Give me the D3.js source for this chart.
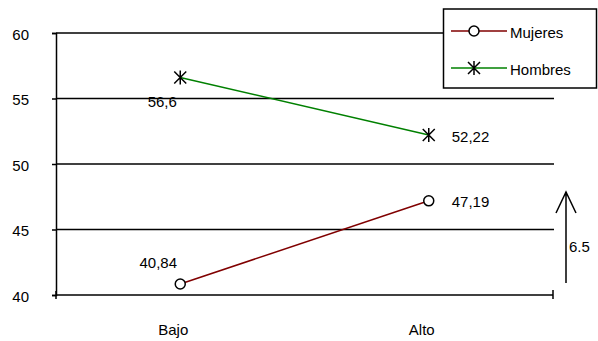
<!DOCTYPE html>
<html><head><meta charset="utf-8">
<script src="https://cdn.jsdelivr.net/npm/d3@7"></script>
<style>body{margin:0;background:#fff}svg{display:block;font-family:"Liberation Sans",Arial,sans-serif}</style>
</head><body><svg id="c" width="598" height="341"></svg>
<script>
const categories = ["Bajo", "Alto"];
const mujeres = [40.84, 47.19];
const hombres = [56.6, 52.22];
const mujeresLabels = ["40,84", "47,19"];
const hombresLabels = ["56,6", "52,22"];
const yTicks = [40, 45, 50, 55, 60];
const seriesNames = ["Mujeres", "Hombres"];
const arrowLabel = "6.5";

const FS = 15;
const svg = d3.select("#c");
const x = d3.scaleBand().domain(categories).range([56, 553]);
const y = d3.scaleLinear().domain([40, 60]).range([295, 33]);
const cx = c => x(c) + x.bandwidth() / 2;

// gridlines
svg.append("g").selectAll("line").data(yTicks.slice(1)).join("line")
  .attr("x1", 56).attr("x2", d => d === 60 ? 443 : 554)
  .attr("y1", d => y(d)).attr("y2", d => y(d))
  .attr("stroke", "#000").attr("stroke-width", 1.5);

// y axis
const ya = svg.append("g").attr("transform", "translate(56,0)")
  .call(d3.axisLeft(y).tickValues(yTicks).tickSize(4).tickPadding(23));
ya.select(".domain").attr("stroke", "#000").attr("stroke-width", 1.5);
ya.selectAll(".tick line").attr("stroke-width", 1.5);
ya.selectAll("text").attr("font-size", FS).attr("fill", "#000").attr("dy", "0.4em").attr("font-family", "Liberation Sans, Arial, sans-serif");

// x axis
const xa = svg.append("g").attr("transform", "translate(0,295)")
  .call(d3.axisBottom(x).tickSize(0).tickPadding(29));
xa.select(".domain").attr("stroke", "#000").attr("stroke-width", 1.5)
  .attr("d", "M56,0H553");
xa.selectAll("text").attr("font-size", FS).attr("fill", "#000").attr("dx", -7).attr("font-family", "Liberation Sans, Arial, sans-serif");
xa.append("line").attr("x1", 553).attr("x2", 553).attr("y1", -5).attr("y2", 4).attr("stroke", "#000").attr("stroke-width", 1.5);
xa.append("line").attr("x1", 56).attr("x2", 56).attr("y1", -4).attr("y2", 4).attr("stroke", "#000").attr("stroke-width", 1.5);

const line = d3.line().x((d, i) => cx(categories[i])).y(d => y(d));

// Hombres
svg.append("path").datum(hombres).attr("d", line).attr("fill", "none").attr("stroke", "#008000").attr("stroke-width", 1.5);
function star(g, px, py) {
  const s = 6;
  g.append("path").attr("d", `M${px-s},${py-s}L${px+s},${py+s}M${px+s},${py-s}L${px-s},${py+s}M${px},${py-s-1}L${px},${py+s+1}`)
    .attr("stroke", "#000").attr("stroke-width", 1.5).attr("fill", "none");
}
hombres.forEach((v, i) => star(svg, cx(categories[i]), y(v)));

// Mujeres
svg.append("path").datum(mujeres).attr("d", line).attr("fill", "none").attr("stroke", "#800000").attr("stroke-width", 1.5);
svg.selectAll("circle.m").data(mujeres).join("circle").attr("class", "m")
  .attr("cx", (d, i) => cx(categories[i])).attr("cy", d => y(d)).attr("r", 5)
  .attr("fill", "#fff").attr("stroke", "#000").attr("stroke-width", 1.5);

// data labels
const lbl = (t, px, py, anchor) => svg.append("text").text(t).attr("x", px).attr("y", py)
  .attr("font-size", FS).attr("text-anchor", anchor || "start").attr("fill", "#000");
lbl(hombresLabels[0], cx(categories[0]) - 18, y(hombres[0]) + 29, "middle");
lbl(mujeresLabels[0], cx(categories[0]) - 22, y(mujeres[0]) - 16, "middle");
lbl(hombresLabels[1], cx(categories[1]) + 23, y(hombres[1]) + 7);
lbl(mujeresLabels[1], cx(categories[1]) + 23, y(mujeres[1]) + 6);

// arrow
svg.append("path").attr("d", "M566,283V192M556,213L566,192L576,213")
  .attr("stroke", "#000").attr("stroke-width", 1.5).attr("fill", "none");
lbl(arrowLabel, 569, 252);

// legend
svg.append("rect").attr("x", 443.5).attr("y", 9).attr("width", 153).attr("height", 79)
  .attr("fill", "#fff").attr("stroke", "#000").attr("stroke-width", 1.5);
const lg = [{name: seriesNames[0], col: "#800000", ly: 31, ty: 38}, {name: seriesNames[1], col: "#008000", ly: 68, ty: 75}];
lg.forEach((d, i) => {
  svg.append("line").attr("x1", 451).attr("x2", 507).attr("y1", d.ly).attr("y2", d.ly).attr("stroke", d.col).attr("stroke-width", 1.5);
  if (i === 0) svg.append("circle").attr("cx", 474).attr("cy", d.ly).attr("r", 5).attr("fill", "#fff").attr("stroke", "#000").attr("stroke-width", 1.5);
  else star(svg, 474, d.ly);
  lbl(d.name, 510, d.ty);
});
</script></body></html>
